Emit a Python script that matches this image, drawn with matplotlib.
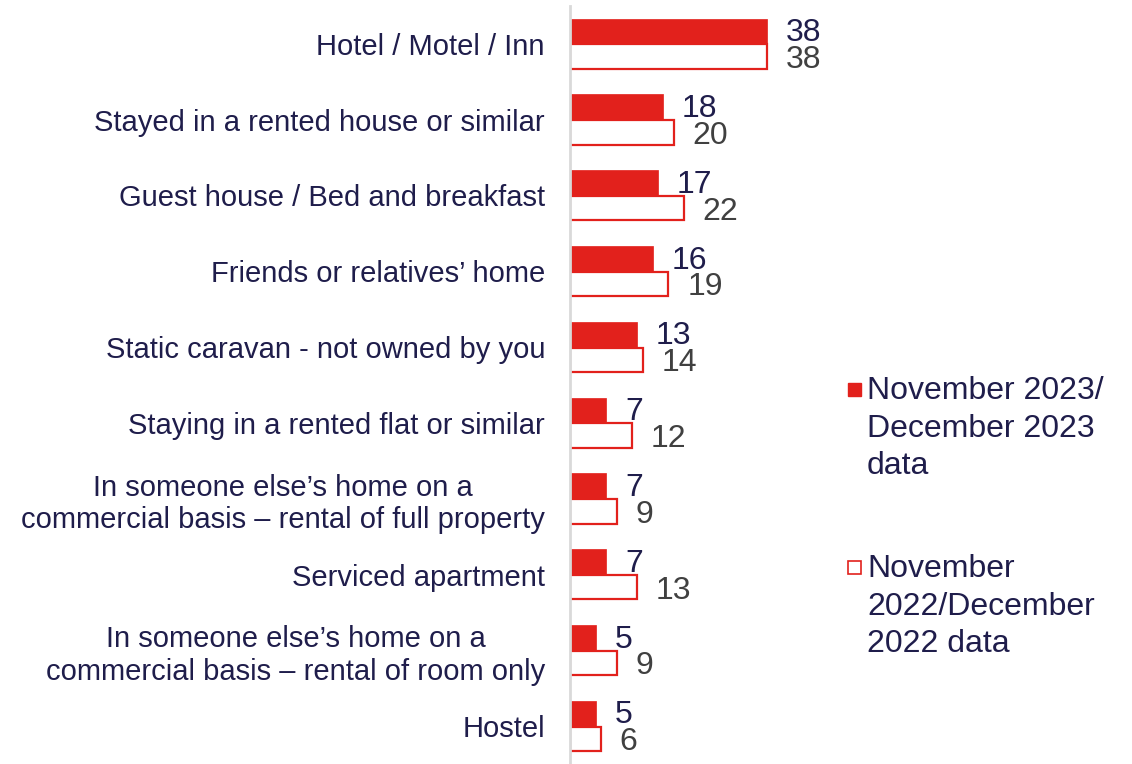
import matplotlib.pyplot as plt
from matplotlib.patches import Rectangle

plt.rcParams['font.family'] = ['Liberation Sans', 'DejaVu Sans']

categories = [
    "Hotel / Motel / Inn",
    "Stayed in a rented house or similar",
    "Guest house / Bed and breakfast",
    "Friends or relatives\u2019 home",
    "Static caravan - not owned by you",
    "Staying in a rented flat or similar",
    "In someone else\u2019s home on a\ncommercial basis \u2013 rental of full property",
    "Serviced apartment",
    "In someone else\u2019s home on a\ncommercial basis \u2013 rental of room only",
    "Hostel",
]
vals_2023 = [38, 18, 17, 16, 13, 7, 7, 7, 5, 5]
vals_2022 = [38, 20, 22, 19, 14, 12, 9, 13, 9, 6]
legend_labels = ["November 2023/\nDecember 2023\ndata",
                 "November\n2022/December\n2022 data"]

red = '#E2211C'
navy = '#1F1D4B'
grey = '#404040'

fig = plt.figure(figsize=(11.32, 7.64), dpi=100)
ax = fig.add_axes([570 / 1132, 0, 340 / 1132, 758 / 764])

y = list(range(len(categories)))
h = 0.335
y_top = [i - h / 2 for i in y]
y_bot = [i + h / 2 for i in y]

ax.barh(y_top, vals_2023, height=h, color=red, edgecolor=red, linewidth=0.5)
ax.barh(y_bot, vals_2022, height=h * 0.96, color='white', edgecolor=red, linewidth=1.6)

for yy, v in zip(y_top, vals_2023):
    ax.annotate(str(v), (v, yy), xytext=(13.5, -1.5), textcoords='offset points',
                ha='left', va='center', fontsize=23, color=navy)
for yy, v in zip(y_bot, vals_2022):
    ax.annotate(str(v), (v, yy), xytext=(13.5, -2.5), textcoords='offset points',
                ha='left', va='center', fontsize=23, color=grey)

ax.set_ylim(len(categories) - 0.5, -0.5)
ax.set_xlim(0, 340 / 5.18)
ax.set_yticks(y)
ax.set_yticklabels(categories, fontsize=21, color=navy, multialignment='center',
                   linespacing=1.2)
ax.tick_params(axis='y', length=0, pad=18)
ax.set_xticks([])
for s in ['top', 'right', 'bottom']:
    ax.spines[s].set_visible(False)
ax.spines['left'].set_color('#D9D9D9')
ax.spines['left'].set_linewidth(2)

# legend drawn by hand to match the side block layout
fig.patches.append(Rectangle((848 / 1132, 1 - 396 / 764), 13 / 1132, 13 / 764,
                             transform=fig.transFigure, facecolor=red, edgecolor=red))
fig.patches.append(Rectangle((848 / 1132, 1 - 574 / 764), 13 / 1132, 13 / 764,
                             transform=fig.transFigure, facecolor='white',
                             edgecolor=red, linewidth=1.2))
fig.text(867 / 1132, 1 - 376 / 764, legend_labels[0], fontsize=23, color=navy,
         va='top', ha='left', linespacing=1.33)
fig.text(867 / 1132, 1 - 554 / 764, legend_labels[1], fontsize=23, color=navy,
         va='top', ha='left', linespacing=1.33)

fig.savefig('out.png', dpi=100)
